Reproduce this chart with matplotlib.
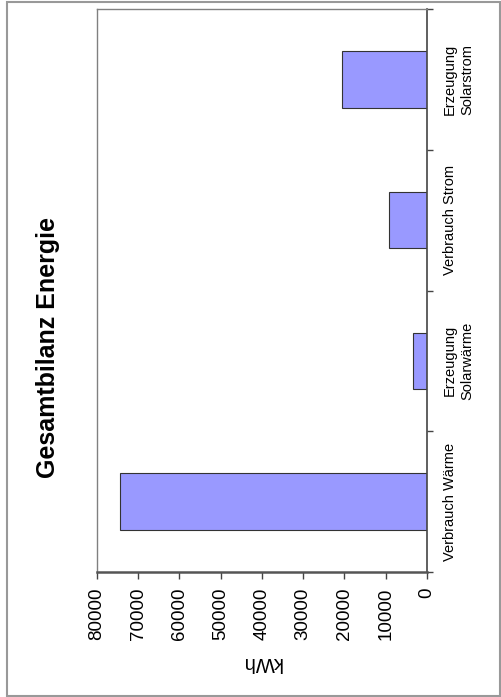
import numpy as np
import matplotlib.pyplot as plt
from matplotlib.patches import Rectangle

# Daten (kWh)
kategorien = ['Verbrauch Wärme', 'Erzeugung\nSolarwärme', 'Verbrauch Strom', 'Erzeugung\nSolarstrom']
werte = [74500, 3300, 9200, 20600]
achsen_ticks = [80000, 70000, 60000, 50000, 40000, 30000, 20000, 10000, 0]

plt.rcParams['font.family'] = ['Liberation Sans', 'DejaVu Sans']

fig = plt.figure(figsize=(5.02, 6.97), dpi=100)
ax = fig.add_axes([97/502, 1 - 572/697, 330/502, 563/697])

pos = np.arange(len(kategorien))
ax.barh(pos, werte, height=0.4, color='#9999FF', edgecolor='#333333', linewidth=0.8)

# Wertachse (0 rechts)
ax.set_xlim(80000, 0)
ax.set_xticks(achsen_ticks)
ax.set_xticklabels([str(t) for t in achsen_ticks], rotation=90, fontsize=13.5)
ax.tick_params(axis='x', direction='out', length=5, width=1, color='#444444', pad=6)
ax.set_xlabel('kWh', rotation=180, fontsize=14.5)
ax.xaxis.set_label_coords(0.5, -0.143)

# Kategorienachse rechts
ax.set_ylim(-0.5, 3.5)
ax.yaxis.tick_right()
ax.set_yticks(pos)
ax.set_yticklabels(kategorien, rotation=90, fontsize=10.5, ha='left', va='center',
                   multialignment='center', linespacing=1.3)
ax.set_yticks(np.arange(-0.5, 4, 1), minor=True)
ax.tick_params(axis='y', which='major', length=0, pad=11.5)
ax.tick_params(axis='y', which='minor', right=True, left=False, direction='out',
               length=4, width=1, color='#444444')

for s in ['top', 'left']:
    ax.spines[s].set_color('#808080')
    ax.spines[s].set_linewidth(1.0)
ax.spines['bottom'].set_color('#555555')
ax.spines['bottom'].set_linewidth(1.8)
ax.spines['right'].set_color('#444444')
ax.spines['right'].set_linewidth(1.2)

fig.text(48/502, 1 - 348/697, 'Gesamtbilanz Energie', rotation=90, ha='center', va='center',
         fontsize=18, fontweight='bold')

# Rahmen um das Diagramm
fig.patches.append(Rectangle((7/502, 1/697), 493/502, 694/697, transform=fig.transFigure,
                             fill=False, edgecolor='#999999', linewidth=1.5))

fig.savefig('out.png', dpi=100)
